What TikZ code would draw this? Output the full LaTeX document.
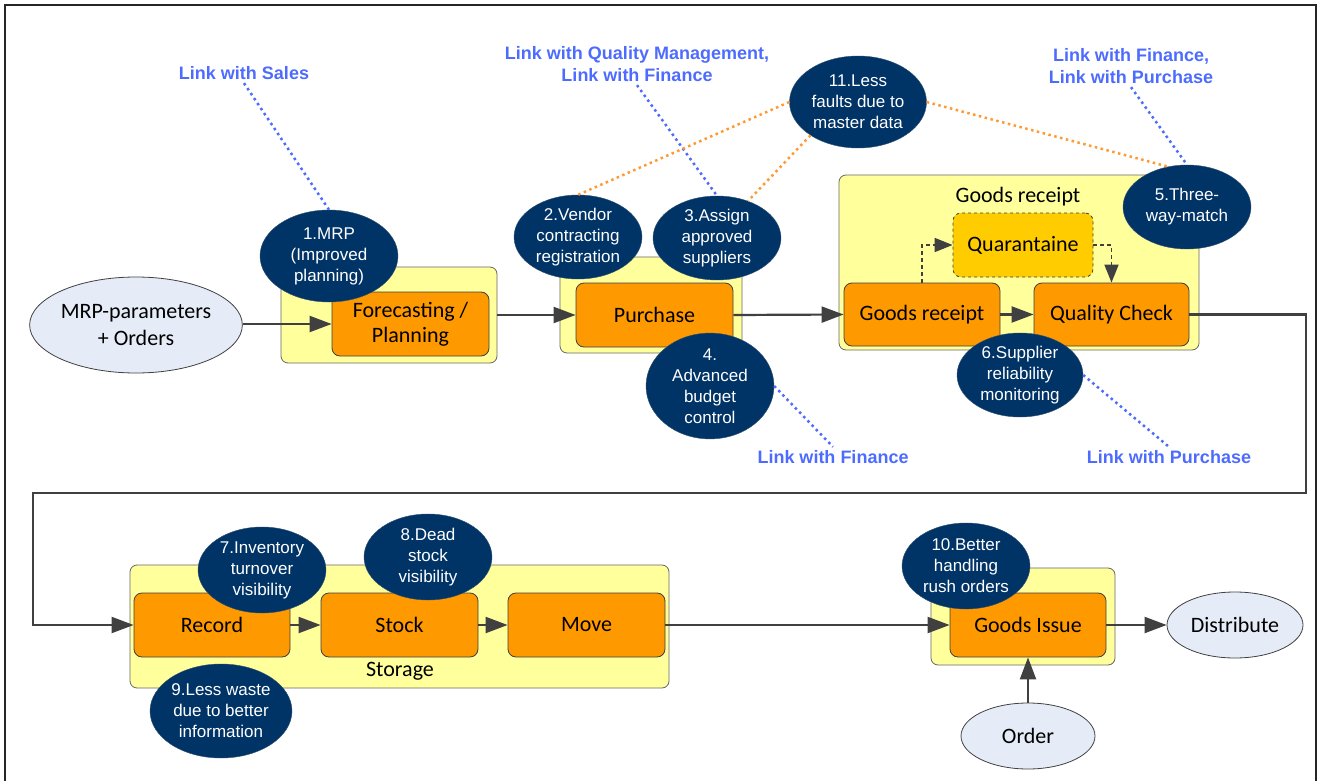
\documentclass[tikz,border=0pt]{standalone}
\usepackage{fontspec}
\setmainfont{Carlito}
\newfontfamily\arialfont{Liberation Sans}
\usetikzlibrary{shapes.geometric,arrows.meta}
\definecolor{ylw}{HTML}{FFFF9C}
\definecolor{orng}{HTML}{FF9900}
\definecolor{navy}{HTML}{003366}
\definecolor{lightbg}{HTML}{E6ECF7}
\definecolor{quarc}{HTML}{FFCC00}
\definecolor{linkblue}{HTML}{4D6BFF}
\definecolor{dotorange}{HTML}{FF9933}
\definecolor{dkgray}{HTML}{404040}
\tikzset{
  container/.style={draw=gray!80!black, fill=ylw, rounded corners=7pt, line width=0.8pt, inner sep=0pt},
  proc/.style={draw=dkgray, fill=orng, rounded corners=8pt, line width=0.8pt, inner sep=0pt, align=center, font=\fontsize{22}{25}\selectfont},
  bubble/.style={ellipse, draw=navy!60!gray, fill=navy, text=white, inner sep=0pt, align=center, font=\arialfont\fontsize{17}{21}\selectfont},
  term/.style={ellipse, draw=dkgray, fill=lightbg, line width=0.8pt, inner sep=0pt, align=center, font=\fontsize{22}{27}\selectfont},
  link/.style={text=linkblue, align=center, font=\arialfont\bfseries\fontsize{18}{22}\selectfont},
  flow/.style={draw=dkgray, line width=2.2pt, -{Triangle[length=22pt,width=16pt]}},
  dflow/.style={draw=dkgray, line width=1.8pt, dash pattern=on 4pt off 3pt, -{Triangle[length=18pt,width=14pt]}},
  bdot/.style={draw=linkblue, line width=2.5pt, dash pattern=on 2.5pt off 3.5pt},
  odot/.style={draw=dotorange, line width=2.5pt, dash pattern=on 2.5pt off 3.5pt},
}
\begin{document}
\begin{tikzpicture}[x=1pt,y=-1pt]
\useasboundingbox (0,0) rectangle (1320,781);
\draw[line width=2pt, draw=black!85] (5,5) rectangle (1316,790);

% containers
\node[container, minimum width=216pt, minimum height=96pt] (cont1) at (389,315) {};
\node[container, minimum width=182pt, minimum height=96pt] (cont2) at (651,305) {};
\node[container, minimum width=360pt, minimum height=175pt] (cont3) at (1019,262.5) {};
\node[container, minimum width=539pt, minimum height=123pt] (cont4) at (399.5,626.5) {};
\node[container, minimum width=184pt, minimum height=97pt] (cont5) at (1023,616.5) {};
\node[font=\fontsize{22}{25}\selectfont] (t3) at (1018,197) {Goods receipt};
\node[font=\fontsize{22}{25}\selectfont] (t4) at (400,671) {Storage};

% process boxes
\node[proc, minimum width=157pt, minimum height=64pt] (fp) at (410.5,324) {Forecasting /\\Planning};
\node[proc, minimum width=157pt, minimum height=64pt] (pur) at (654.5,315) {Purchase};
\node[proc, minimum width=156pt, minimum height=63pt] (gr) at (922,314.5) {Goods receipt};
\node[proc, minimum width=155pt, minimum height=63pt] (qc) at (1111.5,314.5) {Quality Check};
\node[proc, fill=quarc, dashed, minimum width=140pt, minimum height=64pt] (quar) at (1023,245) {Quarantaine};
\node[proc, minimum width=156pt, minimum height=64pt] (rec) at (212,625) {Record};
\node[proc, minimum width=157pt, minimum height=64pt] (stock) at (399.5,625) {Stock};
\node[proc, minimum width=157pt, minimum height=64pt] (move) at (586.5,625) {Move};
\node[proc, minimum width=156pt, minimum height=64pt] (gi) at (1028,625) {Goods Issue};

% terminals
\node[term, minimum width=200pt, minimum height=96pt] (mrpp) at (136,325) {MRP-parameters\\+ Orders};
\node[term, minimum width=136pt, minimum height=66pt] (dist) at (1235,625) {Distribute};
\node[term, minimum width=134pt, minimum height=66pt] (order) at (1028,736) {Order};

% flow arrows
\draw[flow] (mrpp.east |- fp.west) -- (fp.west);
\draw[flow] (cont1.east) -- (pur.west);
\draw[flow] (pur.east) -- (gr.west);
\draw[flow] (gr.east) -- (qc.west);
\draw[dflow] (gr.north) |- (quar.west);
\draw[dflow] (quar.east) -| (qc.north);
\coordinate (c1) at (1306,314.5);
\coordinate (c2) at (1306,493);
\coordinate (c3) at (33,493);
\coordinate (c4) at (33,625);
\draw[flow] (qc.east) -- (c1) -- (c2) -- (c3) -- (c4) -- (rec.west);
\draw[flow] (rec.east) -- (stock.west);
\draw[flow] (stock.east) -- (move.west);
\draw[flow] (move.east) -- (gi.west);
\draw[flow] (gi.east) -- (dist.west);
\draw[flow] (order.north) -- (gi.south);

% link labels
\node[link] (lsales) at (244,73) {Link with Sales};
\node[link] (lqm) at (637,64) {Link with Quality Management,\\Link with Finance};
\node[link] (lfp) at (1131,66) {Link with Finance,\\Link with Purchase};
\node[link] (lf2) at (833,457) {Link with Finance};
\node[link] (lp2) at (1169,457) {Link with Purchase};

% bubbles
\node[bubble, minimum width=138pt, minimum height=92pt] (n1) at (329,256) {1.MRP\\(Improved\\planning)};
\node[bubble, minimum width=128pt, minimum height=84pt] (n2) at (578,237) {2.Vendor\\contracting\\registration};
\node[bubble, minimum width=128pt, minimum height=84pt] (n3) at (717,238) {3.Assign\\approved\\suppliers};
\node[bubble, minimum width=128pt, minimum height=88pt] (n4) at (710,386) {4.\\Advanced\\budget\\control};
\node[bubble, minimum width=137pt, minimum height=92pt] (n11) at (858,102) {11.Less\\faults due to\\master data};
\node[bubble, minimum width=128pt, minimum height=84pt] (n5) at (1187,207) {5.Three-\\way-match};
\node[bubble, minimum width=126pt, minimum height=84pt] (n6) at (1020,375) {6.Supplier\\reliability\\monitoring};
\node[bubble, minimum width=128pt, minimum height=86pt] (n7) at (262,570) {7.Inventory\\turnover\\visibility};
\node[bubble, minimum width=128pt, minimum height=86pt] (n8) at (428,557) {8.Dead\\stock\\visibility};
\node[bubble, minimum width=142pt, minimum height=94pt] (n9) at (221,711) {9.Less waste\\due to better\\information};
\node[bubble, minimum width=128pt, minimum height=86pt] (n10) at (966,566) {10.Better\\handling\\rush orders};

% dotted connectors
\draw[bdot] (lsales.south) -- (n1.north);
\draw[bdot] (lqm.south) -- (n3.north);
\draw[bdot] (lfp.south) -- (n5.north);
\draw[bdot] (n4.east) -- (lf2.north);
\draw[bdot] (n6.east) -- (lp2.north);
\draw[odot] (n11.west) -- (n2.north);
\draw[odot] (n11.215) -- (n3.50);
\draw[odot] (n11.east) -- (n5.115);
\end{tikzpicture}
\end{document}
